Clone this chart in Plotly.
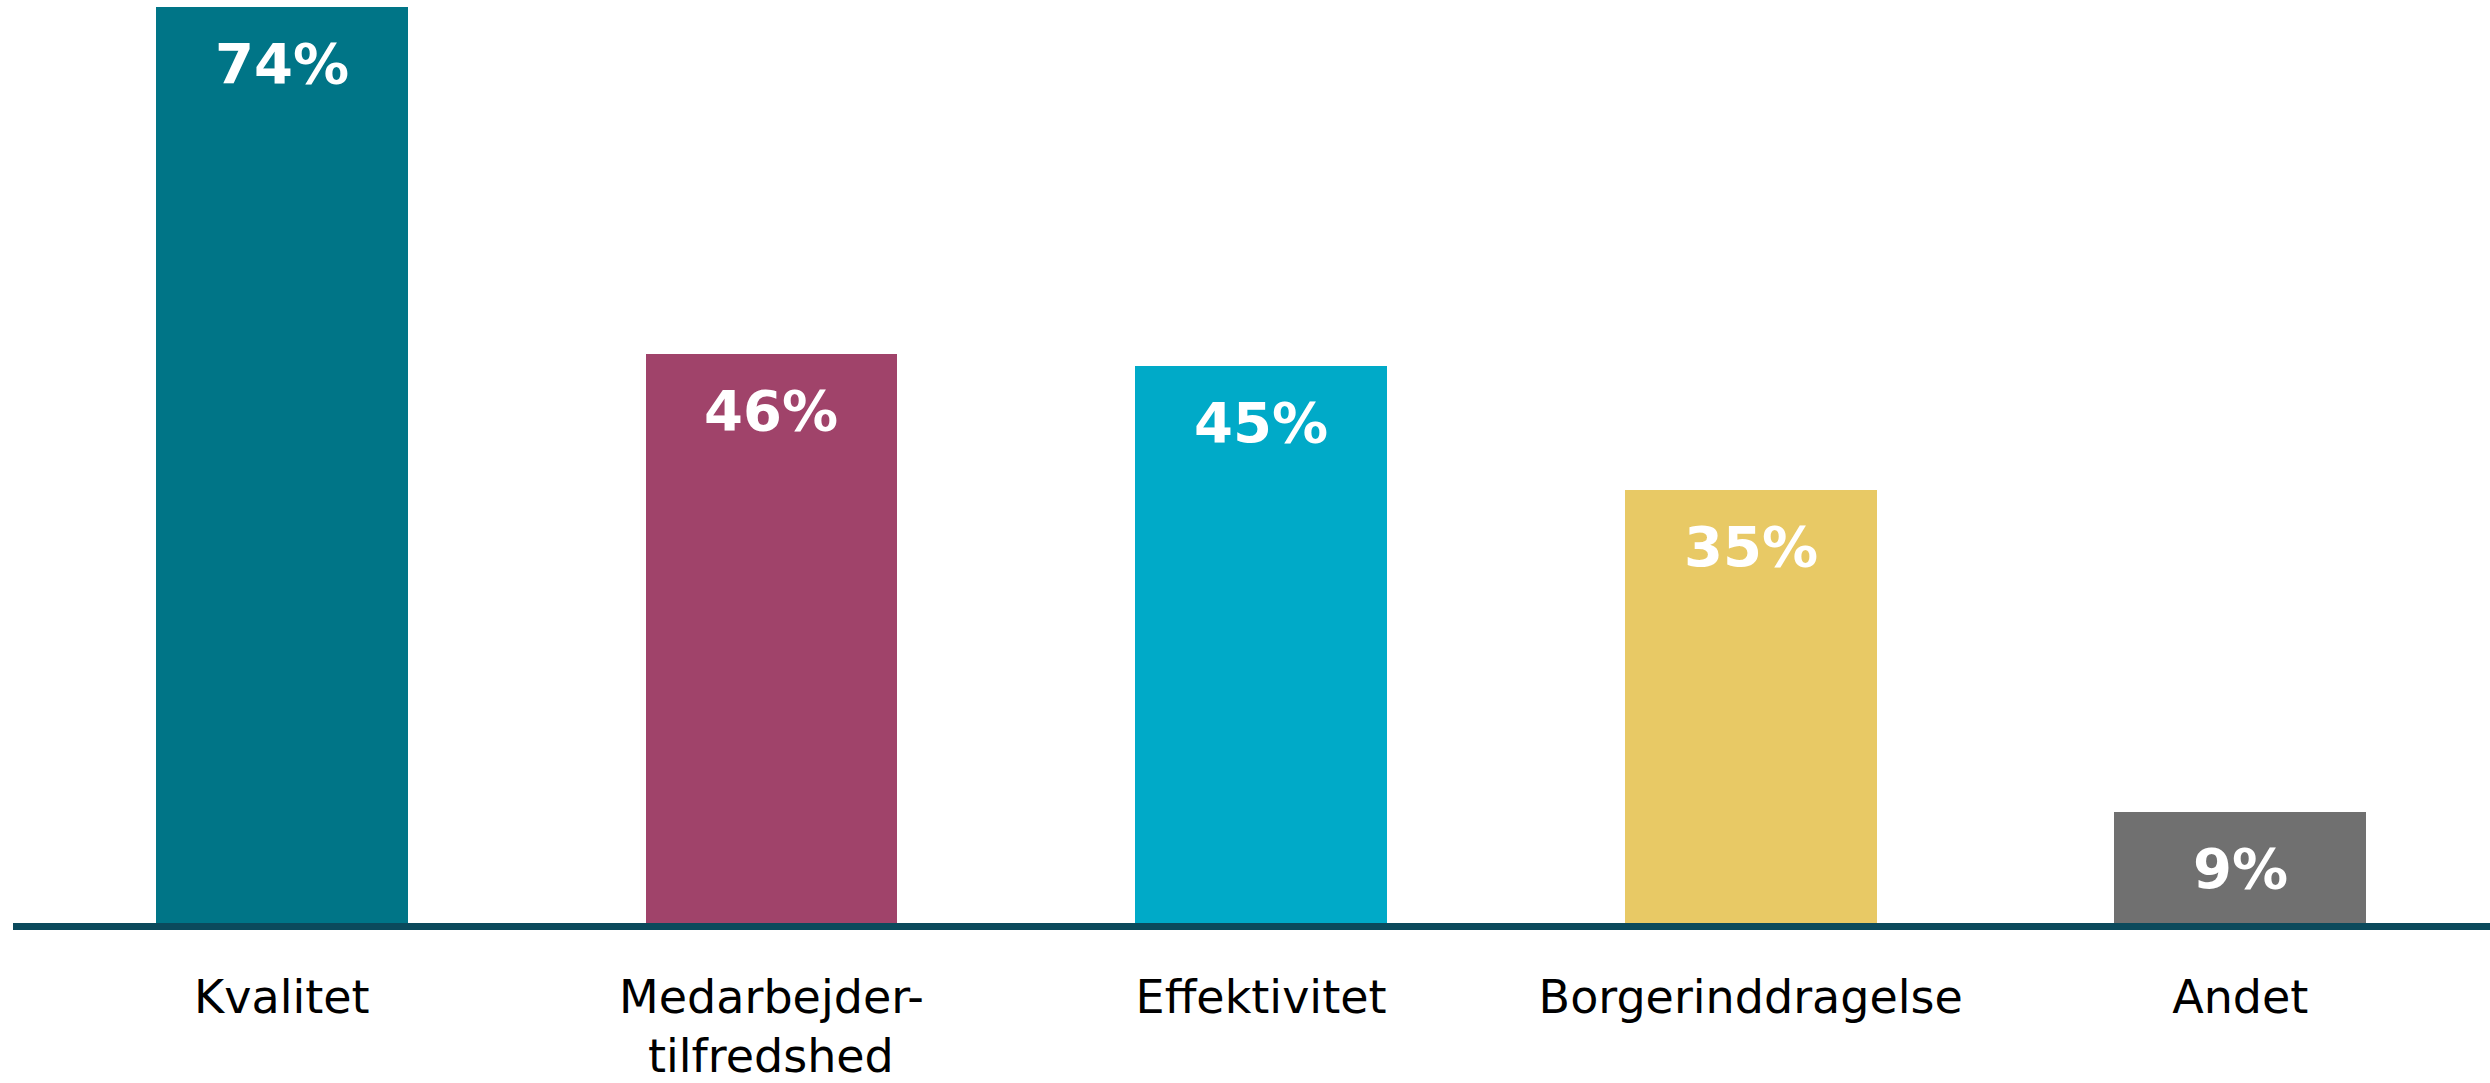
import plotly.graph_objects as go

categories = ["Kvalitet", "Medarbejder-", "Effektivitet", "Borgerinddragelse", "Andet"]
category_second_line = ["", "tilfredshed", "", "", ""]
values = [74, 46, 45, 35, 9]
value_labels = ["74%", "46%", "45%", "35%", "9%"]
colors = ["#007587", "#A0436A", "#00AAC8", "#E8C965", "#707070"]

x_idx = list(range(len(categories)))
label_font = dict(family="DejaVu Sans", size=46, color="black")

fig = go.Figure()
fig.add_trace(go.Bar(
    x=x_idx, y=values, width=0.514,
    marker=dict(color=colors, line=dict(width=0)),
    hoverinfo="skip", showlegend=False,
))

for xi, v, lab in zip(x_idx, values, value_labels):
    fig.add_annotation(
        x=xi, y=v, xref="x", yref="y", text=lab, showarrow=False,
        yanchor="top", yshift=-22,
        font=dict(family="DejaVu Sans", size=56, color="white", weight="bold"),
    )

# second line of wrapped category labels
for xi, lab in zip(x_idx, category_second_line):
    if lab:
        fig.add_annotation(
            x=xi, y=0, xref="x", yref="y", text=lab, showarrow=False,
            yanchor="top", yshift=-104, font=label_font,
        )

fig.update_layout(
    width=2490, height=1083,
    margin=dict(l=13, r=0, t=0, b=160, autoexpand=False),
    paper_bgcolor="white", plot_bgcolor="white",
    bargap=0,
    xaxis=dict(
        range=[-0.549, 4.510],
        tickmode="array", tickvals=x_idx, ticktext=categories,
        showline=True, linecolor="#0B4A5C", linewidth=7,
        showgrid=False, zeroline=False, ticks="",
        tickfont=label_font,
        ticklabelstandoff=28, automargin=False,
    ),
    yaxis=dict(range=[0, 74.57], visible=False, showgrid=False, zeroline=False,
               automargin=False),
)

fig.write_html(
    "out.html",
    config={"displayModeBar": False},
    post_script="document.body.style.margin='0';document.body.style.overflow='hidden';",
)
